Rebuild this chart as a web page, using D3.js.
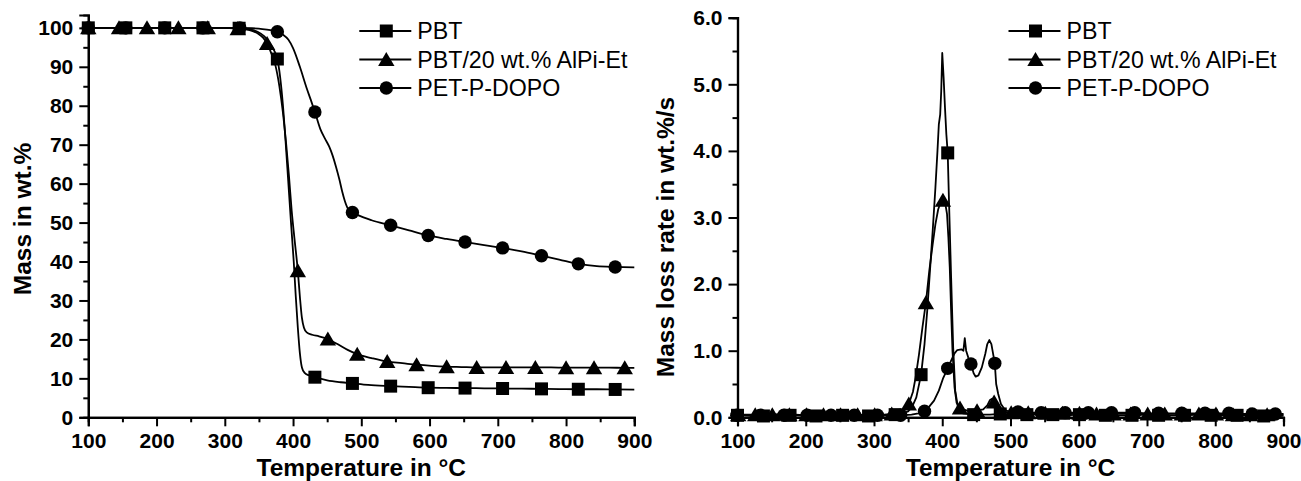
<!DOCTYPE html>
<html>
<head>
<meta charset="utf-8">
<script src="https://cdn.jsdelivr.net/npm/d3@7"></script>
<style>
  body { margin: 0; background: #fff; }
  svg text { font-family: "Liberation Sans", Arial, sans-serif; fill: #000; }
</style>
</head>
<body>
<svg id="chart" width="1301" height="481"></svg>
<script>
// ---- Legend / series names ----
const seriesNames = ["PBT", "PBT/20 wt.% AlPi-Et", "PET-P-DOPO"];
const seriesShapes = ["square", "triangle", "circle"];

// ---- Axis ticks ----
const tempTicks = [100, 200, 300, 400, 500, 600, 700, 800, 900];
const massTicks = [0, 10, 20, 30, 40, 50, 60, 70, 80, 90, 100];
const rateTicks = [0, 1, 2, 3, 4, 5, 6];

// ---- TGA: mass (wt.%) vs temperature (°C) ----
const tgaPBT = [[150,100],[200,100],[250,100],[300,100],[335,99.6],[348,99],[358,97.8],[366,96],[372,94.3],[381,87.5],[385,80.5],[389,71],[393,60.5],[397,50],[401,40],[404,31],[407,23],[410,16.5],[413,12.8],[417,11.4],[423,10.8],[450,9.5],[470,9.0],[510,8.3],[570,7.8],[625,7.55],[680,7.45],[735,7.35],[790,7.25],[845,7.2],[900,7.1]];
const tgaPBTMarks = [[100,100],[155,100],[212,100],[268,100],[321,99.9],[377,92],[432,10.3],[487,8.7],[543,8.0],[598,7.6],[652,7.5],[707,7.4],[764,7.3],[818,7.2],[872,7.15]];

const tgaAlPi = [[120,100],[165,100],[210,100],[250,100],[296,100],[335,99.5],[348,98.6],[356,97.5],[368,93.5],[374,90.5],[380,85],[385,78.5],[390,70],[394,62],[398,53],[402,46],[410,31],[413,25.5],[416,23],[420,21.8],[428,21.2],[438,20.8],[465,18.8],[480,17.3],[515,15.2],[560,13.9],[603,13.2],[647,12.9],[690,12.8],[735,12.8],[778,12.8],[820,12.75],[863,12.75],[900,12.7]];
const tgaAlPiMarks = [[100,100],[145,100],[186,100],[232,100],[275,100],[319,99.8],[362,96],[407,37.6],[451,20.1],[494,16.2],[538,14.3],[581,13.5],[625,13.0],[669,12.8],[712,12.8],[755,12.8],[800,12.75],[841,12.75],[886,12.7]];

const tgaDOPO = [[130,100],[185,100],[240,100],[295,100],[340,99.9],[355,99.7],[367,99.4],[385,98.3],[393,97],[400,94.8],[410,90],[420,84.5],[426,81.5],[440,74],[447,71.5],[453,69.5],[458,67.2],[463,64.3],[468,61],[472,58],[476,55.5],[481,53.4],[495,51.9],[515,50.6],[570,48],[625,45.8],[680,44.2],[735,42.6],[790,40.5],[845,38.8],[900,38.5]];
const tgaDOPOMarks = [[100,100],[155,100],[212,100],[268,100],[322,100],[377,99],[432,78.4],[487,52.6],[543,49.3],[598,46.7],[652,45.0],[707,43.5],[764,41.5],[818,39.4],[872,38.6]];

// ---- DTG: mass loss rate (wt.%/s) vs temperature (°C) ----
const dtgPBT = [[110,0.03],[120,0.02],[130,0.04],[145,0.03],[160,0.02],[170,0.04],[190,0.03],[205,0.02],[225,0.03],[240,0.04],[265,0.02],[280,0.03],[305,0.02],[320,0.03],[340,0.05],[350,0.09],[356,0.16],[362,0.3],[374,1.1],[378,1.6],[382,2.2],[386,2.8],[390,3.45],[393,4.0],[395,4.4],[397,4.55],[398.5,4.9],[400,5.47],[402,5.1],[404,4.65],[406,4.25],[410,3.2],[413,2.1],[416,1.05],[419,0.4],[423,0.15],[430,0.06],[470,0.04],[510,0.03],[545,0.04],[580,0.03],[620,0.04],[660,0.03],[700,0.04],[740,0.03],[775,0.04],[810,0.03],[850,0.03],[890,0.02],[900,0.02]];
const dtgPBTMarks = [[100,0.03],[138,0.02],[177,0.03],[215,0.02],[254,0.03],[292,0.02],[331,0.04],[369,0.64],[408,3.97],[446,0.04],[485,0.05],[524,0.04],[562,0.04],[601,0.04],[639,0.03],[678,0.03],[717,0.03],[755,0.03],[794,0.03],[832,0.03],[871,0.02]];

const dtgAlPi = [[115,0.04],[140,0.03],[165,0.05],[190,0.03],[215,0.04],[240,0.03],[265,0.05],[290,0.03],[315,0.04],[340,0.08],[346,0.12],[357,0.38],[361,0.6],[366,0.95],[371,1.35],[381,2.2],[386,2.6],[390,2.9],[394,3.12],[398,3.24],[404,3.24],[407,3.05],[409,2.7],[411,2.25],[413,1.6],[415,1.0],[418,0.45],[421,0.22],[433,0.11],[440,0.09],[460,0.12],[466,0.18],[470,0.26],[473,0.28],[480,0.17],[486,0.1],[490,0.08],[512,0.07],[537,0.06],[562,0.06],[587,0.05],[612,0.06],[637,0.05],[662,0.05],[687,0.05],[712,0.05],[737,0.05],[762,0.04],[787,0.05],[812,0.04],[837,0.04],[862,0.04],[888,0.04],[900,0.04]];
const dtgAlPiMarks = [[101,0.04],[126,0.04],[151,0.04],[176,0.04],[201,0.04],[226,0.04],[251,0.04],[276,0.04],[301,0.04],[326,0.05],[351,0.2],[376,1.72],[401,3.26],[426,0.14],[451,0.1],[476,0.23],[501,0.07],[526,0.07],[551,0.06],[576,0.06],[601,0.06],[626,0.05],[651,0.05],[676,0.05],[701,0.05],[726,0.05],[751,0.05],[776,0.05],[801,0.05],[826,0.04],[851,0.04],[876,0.04]];

const dtgDOPO = [[115,0.03],[150,0.03],[185,0.04],[220,0.03],[255,0.03],[290,0.04],[320,0.03],[355,0.04],[365,0.06],[380,0.15],[388,0.25],[395,0.4],[401,0.58],[413,0.85],[418,0.96],[422,1.01],[428,1.02],[431,1.0],[433,1.19],[435,1.0],[438,0.9],[446,0.66],[449,0.61],[453,0.63],[458,0.75],[463,0.95],[466,1.1],[469,1.16],[472,1.1],[479,0.5],[482,0.35],[486,0.2],[492,0.11],[500,0.08],[528,0.07],[562,0.07],[596,0.07],[630,0.06],[665,0.07],[700,0.06],[733,0.06],[768,0.06],[802,0.06],[836,0.05],[870,0.05],[900,0.05]];
const dtgDOPOMarks = [[99,0.03],[134,0.03],[168,0.03],[202,0.03],[237,0.03],[271,0.03],[305,0.03],[339,0.03],[374,0.09],[408,0.735],[442,0.8],[477,0.81],[511,0.08],[545,0.07],[580,0.07],[614,0.07],[648,0.07],[682,0.07],[717,0.06],[751,0.06],[785,0.06],[820,0.06],[854,0.05],[888,0.05]];

// ---- Drawing ----
const svg = d3.select("#chart");

function markerPath(shape) {
  if (shape === "square") return "M-6.5,-6.5H6.5V6.5H-6.5Z";
  if (shape === "triangle") return "M0,-7.5L8.2,6.5H-8.2Z";
  return d3.arc()({innerRadius: 0, outerRadius: 6.7, startAngle: 0, endAngle: 2 * Math.PI});
}

function drawPanel(cfg) {
  const g = svg.append("g");
  const x = d3.scaleLinear().domain([100, 900]).range([cfg.left, cfg.left + 546]);
  const y = d3.scaleLinear().domain(cfg.yDomain).range([417.3, cfg.top]);

  // Curves (line passes through every marker point)
  const line = d3.line().x(d => x(d[0])).y(d => y(d[1])).curve(cfg.curve);
  cfg.series.forEach(s => {
    const pts = s.curve.concat(s.marks).sort((a, b) => a[0] - b[0]);
    g.append("path").attr("d", line(pts))
      .attr("fill", "none").attr("stroke", "#000").attr("stroke-width", 1.8)
      .attr("stroke-linejoin", "round");
  });
  cfg.series.forEach((s, i) => {
    g.append("g").selectAll("path").data(s.marks).join("path")
      .attr("transform", d => `translate(${x(d[0])},${y(d[1])})`)
      .attr("d", markerPath(seriesShapes[i])).attr("fill", "#000");
  });

  // Axes: major + minor ticks, pointing outward
  const fontTick = "bold 21px 'Liberation Sans', Arial, sans-serif";
  const xMajor = d3.axisBottom(x).tickValues(tempTicks).tickSize(9).tickPadding(7).tickFormat(d3.format("d"));
  const xMinor = d3.axisBottom(x).tickValues(tempTicks.slice(0, -1).map(t => t + 50)).tickSize(5).tickFormat("");
  const yMajor = d3.axisLeft(y).tickValues(cfg.yTicks).tickSize(9).tickPadding(6).tickFormat(cfg.yFormat);
  const yMinor = d3.axisLeft(y).tickValues(cfg.yTicks.slice(0, -1).map(t => t + cfg.yStep / 2)).tickSize(5).tickFormat("");

  [xMinor, xMajor].forEach(ax => {
    const a = g.append("g").attr("transform", "translate(0,417.3)").call(ax);
    a.select(".domain").attr("stroke-width", 2.2);
    a.selectAll(".tick line").attr("stroke-width", 2);
    a.selectAll("text").style("font", fontTick).attr("fill", "#000");
  });
  [yMinor, yMajor].forEach(ax => {
    const a = g.append("g").attr("transform", `translate(${cfg.left},0)`).call(ax);
    a.select(".domain").attr("stroke-width", 2.2);
    a.selectAll(".tick line").attr("stroke-width", 2);
    a.selectAll("text").style("font", fontTick).attr("fill", "#000");
  });

  // Axis titles
  const fontTitle = "bold 24.5px 'Liberation Sans', Arial, sans-serif";
  g.append("text").attr("x", cfg.left + 273).attr("y", 475.5)
    .attr("text-anchor", "middle").style("font", fontTitle)
    .text("Temperature in °C");
  g.append("text").attr("transform", `translate(${cfg.yTitleX},${cfg.yTitleY}) rotate(-90)`)
    .attr("text-anchor", "middle").style("font", fontTitle)
    .text(cfg.yTitle);

  // Legend
  const lx = cfg.left + 271;
  seriesNames.forEach((name, i) => {
    const ly = 31 + i * 28.5;
    g.append("line").attr("x1", lx).attr("x2", lx + 52).attr("y1", ly).attr("y2", ly)
      .attr("stroke", "#000").attr("stroke-width", 1.8);
    g.append("path").attr("transform", `translate(${lx + 27},${ly})`)
      .attr("d", markerPath(seriesShapes[i])).attr("fill", "#000");
    g.append("text").attr("x", lx + 58).attr("y", ly + 8)
      .style("font", "23.2px 'Liberation Sans', Arial, sans-serif").text(name);
  });
}

drawPanel({
  left: 88.3, top: 15, yDomain: [0, 103.3], yTicks: massTicks, yStep: 10,
  yFormat: d3.format("d"), curve: d3.curveMonotoneX,
  yTitle: "Mass in wt.%", yTitleX: 31, yTitleY: 219,
  series: [
    {curve: tgaPBT, marks: tgaPBTMarks},
    {curve: tgaAlPi, marks: tgaAlPiMarks},
    {curve: tgaDOPO, marks: tgaDOPOMarks}
  ]
});

drawPanel({
  left: 737.5, top: 17.7, yDomain: [0, 6], yTicks: rateTicks, yStep: 1,
  yFormat: d3.format(".1f"), curve: d3.curveLinear,
  yTitle: "Mass loss rate in wt.%/s", yTitleX: 674, yTitleY: 237,
  series: [
    {curve: dtgPBT, marks: dtgPBTMarks},
    {curve: dtgAlPi, marks: dtgAlPiMarks},
    {curve: dtgDOPO, marks: dtgDOPOMarks}
  ]
});
</script>
</body>
</html>
